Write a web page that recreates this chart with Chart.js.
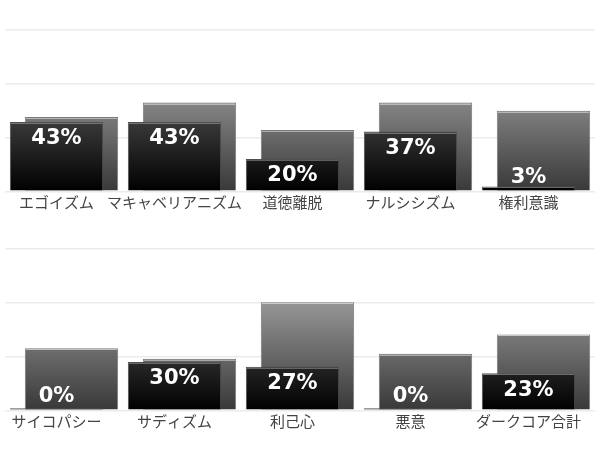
<!DOCTYPE html>
<html>
<head>
<meta charset="utf-8">
<script src="https://cdn.jsdelivr.net/npm/chart.js@4/dist/chart.umd.min.js"></script>
<style>
  html, body { margin: 0; padding: 0; background: #fff; }
  .panel { position: absolute; left: 0; width: 597px; height: 219px; }
  #topPanel { top: 0; }
  #bottomPanel { top: 219px; }
</style>
</head>
<body>
<div class="panel" id="topPanel"><canvas id="chartTop"></canvas></div>
<div class="panel" id="bottomPanel"><canvas id="chartBottom"></canvas></div>
<script>
// top row
const topLabels = ["エゴイズム", "マキャベリアニズム", "道徳離脱", "ナルシシズム", "権利意識"];
const topFront = [43, 43, 20, 37, 3];
const topBack = [46, 55, 38, 55, 50];

// bottom row
const bottomLabels = ["サイコパシー", "サディズム", "利己心", "悪意", "ダークコア合計"];
const bottomFront = [0, 30, 27, 0, 23];
const bottomBack = [38.5, 32, 67, 35, 47];

function gradient(ctx, from, to) {
    const area = ctx.chart.chartArea;
    if (!area) return from;
    const g = ctx.chart.ctx.createLinearGradient(0, area.bottom, 0, area.top);
    g.addColorStop(0, from);
    g.addColorStop(1, to);
    return g;
}

// percent labels on the front bars + light top edge on every bar
const barLabels = {
    id: "barLabels",
    afterDatasetsDraw(chart) {
        const c = chart.ctx;
        c.save();
        chart.data.datasets.forEach((ds, di) => {
            chart.getDatasetMeta(di).data.forEach(bar => {
                if (bar.base - bar.y < 3) return;
                c.strokeStyle = di === 0 ? "rgba(255,255,255,0.3)" : "rgba(255,255,255,0.45)";
                c.lineWidth = 1;
                c.beginPath();
                c.moveTo(bar.x - bar.width / 2 + 1, Math.round(bar.y) + 1.5);
                c.lineTo(bar.x + bar.width / 2 - 1, Math.round(bar.y) + 1.5);
                c.stroke();
            });
        });
        const meta = chart.getDatasetMeta(0);
        c.fillStyle = "#fff";
        c.font = "bold 21px 'DejaVu Sans'";
        c.textAlign = "center";
        c.textBaseline = "middle";
        meta.data.forEach((bar, i) => {
            const y = Math.min(bar.y + 17, bar.base - 13);
            c.fillText(chart.data.datasets[0].data[i] + "%", bar.x, y);
        });
        c.restore();
    }
};

function createChart(id, labels, front, back) {
    return new Chart(document.getElementById(id), {
        type: "bar",
        data: {
            labels: labels,
            datasets: [
                {
                    data: front,
                    backgroundColor: ctx => gradient(ctx, "#000000", "#858585"),
                    borderColor: "#505050",
                    borderWidth: 1,
                    borderSkipped: "bottom",
                    minBarLength: 2
                },
                {
                    data: back,
                    backgroundColor: ctx => gradient(ctx, "#383838", "#c4c4c4"),
                    borderColor: "#7a7a7a",
                    borderWidth: 1,
                    borderSkipped: "bottom"
                }
            ]
        },
        options: {
            responsive: true,
            maintainAspectRatio: false,
            animation: false,
            categoryPercentage: 0.254,
            barPercentage: 6.23,
            layout: { padding: { left: 5, right: 2, top: 30, bottom: 5.7 } },
            plugins: { legend: { display: false }, tooltip: { enabled: false } },
            scales: {
                x: {
                    offset: true,
                    grid: { display: false, drawTicks: false },
                    border: { display: false },
                    ticks: {
                        autoSkip: false,
                        maxRotation: 0,
                        minRotation: 0,
                        padding: 2,
                        labelOffset: -7.5,
                        color: "#444",
                        font: { family: "'Noto Sans CJK JP'", size: 15 }
                    }
                },
                y: {
                    min: 0,
                    max: 100,
                    grid: { color: "#ebebeb", lineWidth: 1.5, drawTicks: false },
                    border: { display: false },
                    ticks: { display: false, count: 4 }
                }
            }
        },
        plugins: [barLabels]
    });
}

createChart("chartTop", topLabels, topFront, topBack);
createChart("chartBottom", bottomLabels, bottomFront, bottomBack);
</script>
</body>
</html>
